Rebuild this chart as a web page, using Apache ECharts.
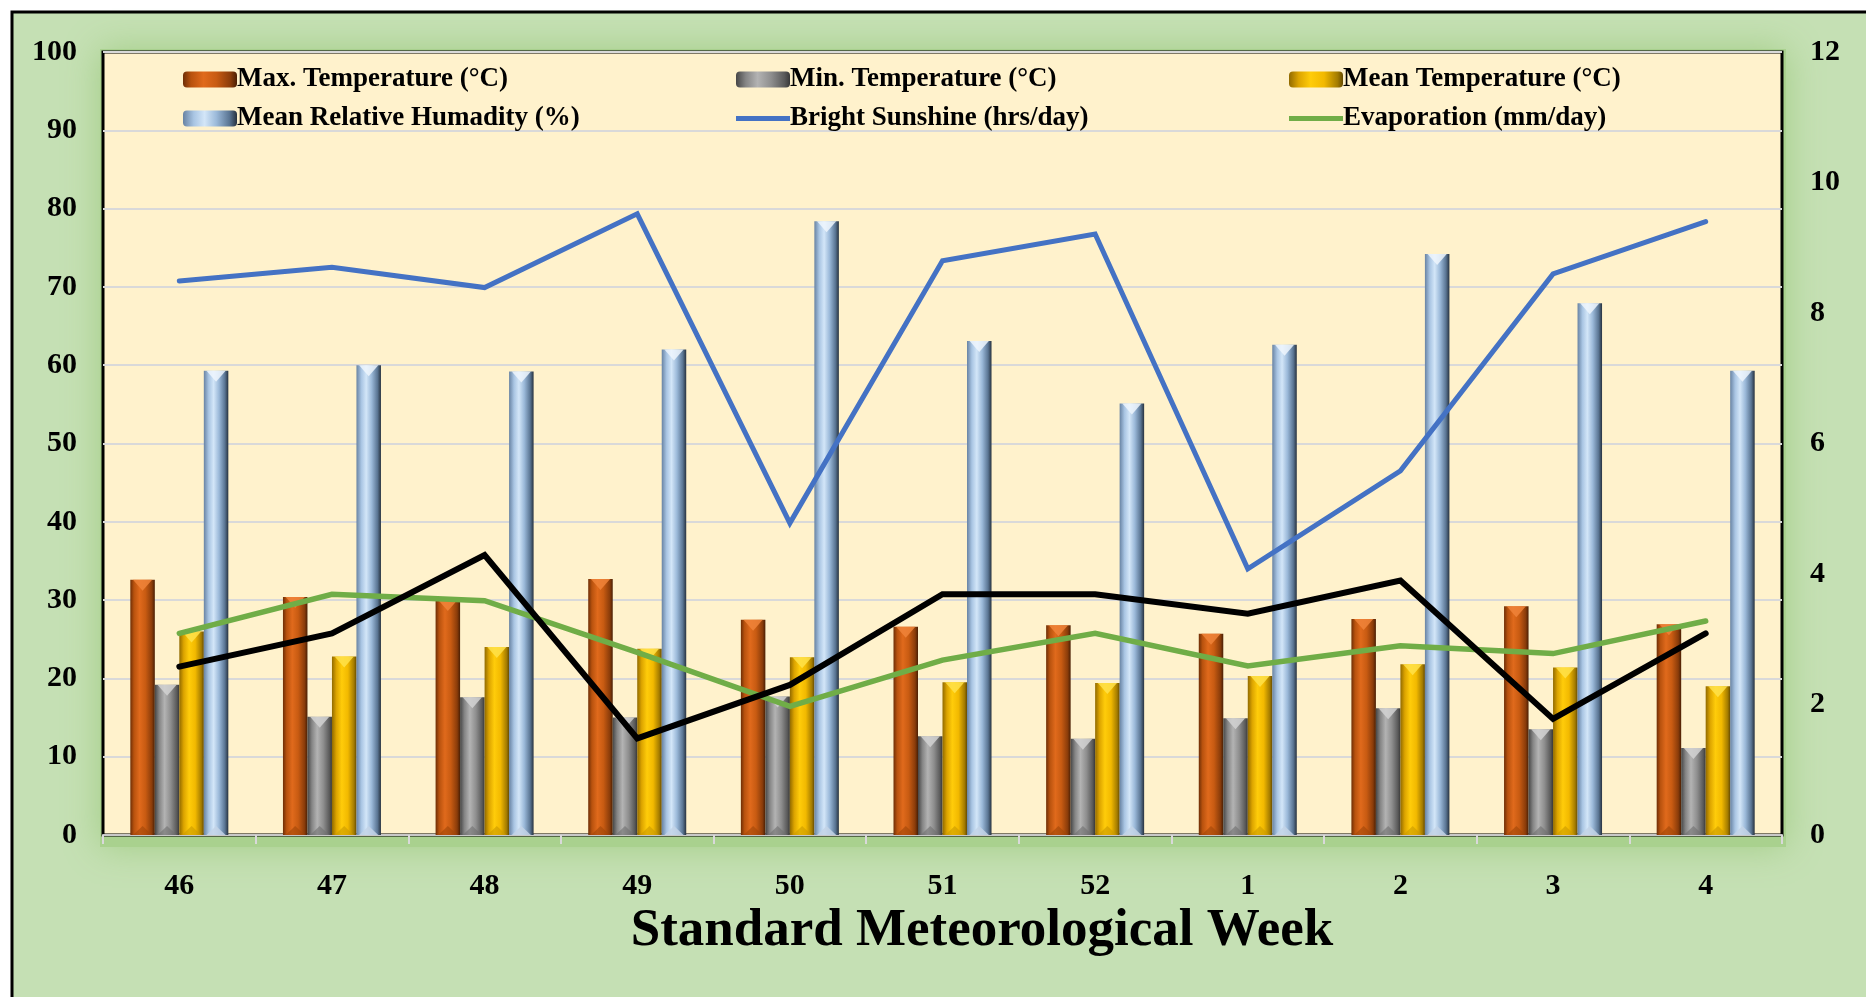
<!DOCTYPE html>
<html><head><meta charset="utf-8">
<script src="https://cdn.jsdelivr.net/npm/echarts@6/dist/echarts.min.js"></script>
<style>html,body{margin:0;padding:0;background:#fff;overflow:hidden}#c{width:1866px;height:997px;}</style>
</head><body><div id="c"></div>
<script>
const weeks = ['46','47','48','49','50','51','52','1','2','3','4'];
const maxTemp = [32.6,30.4,30.0,32.7,27.5,26.6,26.8,25.7,27.6,29.2,26.9];
const minTemp = [19.2,15.1,17.6,15.0,17.7,12.6,12.3,14.9,16.2,13.5,11.1];
const meanTemp = [26.0,22.8,24.0,23.8,22.7,19.5,19.4,20.3,21.8,21.4,19.0];
const humidity = [59.3,60.0,59.2,62.0,78.4,63.1,55.1,62.6,74.2,67.9,59.3];
const sunshine = [8.49,8.70,8.39,9.52,4.78,8.80,9.21,4.08,5.58,8.60,9.40];
const evaporation = [3.09,3.69,3.59,2.80,1.97,2.68,3.09,2.59,2.90,2.78,3.28];
const blackLine = [2.58,3.09,4.29,1.48,2.30,3.69,3.69,3.39,3.90,1.78,3.09];
const seriesNames = ['Max. Temperature (°C)','Min. Temperature (°C)','Mean Temperature (°C)',
  'Mean Relative Humadity (%)','Bright Sunshine (hrs/day)','Evaporation (mm/day)'];
const xTitle = 'Standard Meteorological Week';

const FONT = '"Liberation Serif","Times New Roman",serif';
function grad(stops){
  return new echarts.graphic.LinearGradient(0,0,1,0, stops.map(s=>({offset:s[0],color:s[1]})));
}
const orange = grad([[0,'#6e2e06'],[0.15,'#b8520e'],[0.38,'#e06a1c'],[0.62,'#c85b12'],[0.88,'#8a3c0a'],[1,'#4a1f04']]);
const grey = grad([[0,'#464646'],[0.18,'#858585'],[0.4,'#b3b3b3'],[0.65,'#8e8e8e'],[0.9,'#595959'],[1,'#383838']]);
const yellow = grad([[0,'#916a00'],[0.18,'#dca400'],[0.4,'#ffcc0a'],[0.65,'#f2b900'],[0.9,'#a37b00'],[1,'#664b00']]);
const blue = grad([[0,'#6883a3'],[0.2,'#a9c5e3'],[0.4,'#d3e6f8'],[0.62,'#9bb9d9'],[0.86,'#5a7593'],[1,'#27323f']]);

const chart = echarts.init(document.getElementById('c'), null, {renderer:'canvas'});
const barW = 24.5;
function barSeries(name, data, color){
  return {name, type:'bar', data, barWidth:barW, barGap:'0%', yAxisIndex:0,
    itemStyle:{color}, z:2};
}
function bevel(data, color, pos, op){
  return {type:'pictorialBar', data, barWidth:barW, barGap:'0%', yAxisIndex:0,
    xAxisIndex: pos==='end'?0:1,
    symbol:'triangle', symbolRotate: pos==='end'?180:0, symbolSize:[barW*0.78, pos==='end'?11:9],
    symbolPosition:pos,
    itemStyle:{color, opacity:op}, silent:true, z:3, legendHoverLink:false};
}
function lineSeries(name, data, color, width){
  return {name, type:'line', data, yAxisIndex:1, symbol:'none', showSymbol:false, smooth:false,
    lineStyle:{color, width, cap:'round', join:'miter'}, itemStyle:{color}, z:5};
}
const lineIcon = 'path://M0,0L54,0L54,5L0,5Z';
const legendBase = {orient:'vertical', top:66, itemWidth:54, itemHeight:16, itemGap:12,
  symbolKeepAspect:true,
  textStyle:{fontFamily:FONT, fontWeight:'bold', fontSize:27, color:'#000', lineHeight:26, padding:[0,0,0,-5]},
  selectedMode:false, padding:0};
chart.setOption({
  backgroundColor:'#fff',
  animation:false,
  graphic:[
    {type:'rect', z:-20, shape:{x:12, y:12, width:1900, height:1000},
      style:{fill:'#c5e0b4', stroke:'#000', lineWidth:3}},
    {type:'rect', z:-10, shape:{x:100, y:49, width:1686, height:798},
      style:{fill:'#a9d18e', shadowBlur:34, shadowColor:'#a3cd86'}},
    {type:'text', z:10, x:982, y:931, style:{text:xTitle, fontFamily:FONT, fontWeight:'bold',
      fontSize:53, fill:'#000', align:'center', verticalAlign:'middle'}}
  ],
  grid:{left:103, right:84, top:52, bottom:162, show:true, backgroundColor:'#fff2cc',
    borderColor:'#000', borderWidth:3},
  legend:[
    Object.assign({}, legendBase, {left:183, data:[{name:seriesNames[0]},{name:seriesNames[3]}]}),
    Object.assign({}, legendBase, {left:736, data:[{name:seriesNames[1]},{name:seriesNames[4], icon:lineIcon}]}),
    Object.assign({}, legendBase, {left:1289, data:[{name:seriesNames[2]},{name:seriesNames[5], icon:lineIcon}]})
  ],
  xAxis:[
    {type:'category', data:weeks, boundaryGap:true,
      axisLine:{show:true, lineStyle:{color:'#c8c8c8', width:2}, onZero:false},
      axisTick:{show:true, length:9, lineStyle:{color:'#d9d9d9', width:2}},
      axisLabel:{margin:36, fontFamily:FONT, fontWeight:'bold', fontSize:30, color:'#000'}},
    {type:'category', data:weeks, boundaryGap:true, show:false, position:'bottom'}
  ],
  yAxis:[
    {type:'value', min:0, max:100, interval:10, position:'left',
      axisLine:{show:false}, axisTick:{show:false},
      splitLine:{show:true, lineStyle:{color:'#d9d9d9', width:2}},
      axisLabel:{margin:26, fontFamily:FONT, fontWeight:'bold', fontSize:30, color:'#000'}},
    {type:'value', min:0, max:12, interval:2, position:'right',
      axisLine:{show:false}, axisTick:{show:false}, splitLine:{show:false},
      axisLabel:{margin:28, fontFamily:FONT, fontWeight:'bold', fontSize:30, color:'#000'}}
  ],
  series:[
    barSeries(seriesNames[0], maxTemp, orange),
    barSeries(seriesNames[1], minTemp, grey),
    barSeries(seriesNames[2], meanTemp, yellow),
    barSeries(seriesNames[3], humidity, blue),
    bevel(maxTemp, '#f0843a', 'end', 0.85),
    bevel(minTemp, '#d2d2d2', 'end', 0.85),
    bevel(meanTemp, '#ffe24a', 'end', 0.85),
    bevel(humidity, '#eef6fd', 'end', 0.85),
    bevel(maxTemp, '#a04608', 'start', 0.6),
    bevel(minTemp, '#707070', 'start', 0.6),
    bevel(meanTemp, '#c99a00', 'start', 0.6),
    bevel(humidity, '#c3d3e6', 'start', 0.85),
    lineSeries(seriesNames[4], sunshine, '#4472c4', 5),
    lineSeries(seriesNames[5], evaporation, '#70ad47', 5.5),
    lineSeries('Series 7', blackLine, '#000000', 6)
  ]
});
</script></body></html>
